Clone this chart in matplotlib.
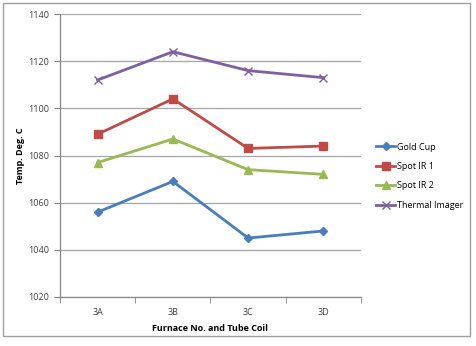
import matplotlib
matplotlib.use("Agg")
import matplotlib.pyplot as plt
from matplotlib.patches import Rectangle
from matplotlib.ticker import FixedLocator

plt.rcParams['font.family'] = ['Open Sans', 'DejaVu Sans']

# ---- data ----
categories = ['3A', '3B', '3C', '3D']
gold_cup = [1056, 1069, 1045, 1048]
spot_ir1 = [1089, 1104, 1083, 1084]
spot_ir2 = [1077, 1087, 1074, 1072]
thermal = [1112, 1124, 1116, 1113]

W, H = 477, 346
fig = plt.figure(figsize=(W / 100, H / 100), dpi=100)

# plot area in pixels: left 60, right 361, top 14, bottom 297
ax = fig.add_axes([60 / W, 1 - 297 / H, (361 - 60) / W, (297 - 14) / H])

x = list(range(len(categories)))
ax.plot(x, gold_cup, color='#4A7EBB', lw=2.0, marker='D', ms=4, label='Gold Cup')
ax.plot(x, spot_ir1, color='#BE4B48', lw=2.0, marker='s', ms=6, label='Spot IR 1')
ax.plot(x, spot_ir2, color='#98B954', lw=2.0, marker='^', ms=6, label='Spot IR 2')
ax.plot(x, thermal, color='#7D60A0', lw=2.0, marker='x', ms=6, mew=1.0, label='Thermal Imager')

ax.set_xlim(-0.5, len(categories) - 0.5)
ax.set_ylim(1020, 1140)
ax.set_yticks(range(1020, 1141, 20))
ax.yaxis.grid(True, color='#A6A6A6', lw=0.9)
ax.set_axisbelow(True)

ax.set_xticks(x)
ax.set_xticklabels(categories)
ax.xaxis.set_minor_locator(FixedLocator([i - 0.5 for i in range(len(categories) + 1)]))
ax.tick_params(axis='x', which='major', length=0, pad=8, labelsize=6.5, colors='#404040')
ax.tick_params(axis='x', which='minor', length=4, color='#868686', direction='out')
ax.tick_params(axis='y', length=4, color='#868686', labelsize=6.5, labelcolor='#404040', pad=4)

for s in ['top', 'right']:
    ax.spines[s].set_visible(False)
for s in ['left', 'bottom']:
    ax.spines[s].set_color('#868686')
    ax.spines[s].set_linewidth(0.9)

ax.set_xlabel('Furnace No. and Tube Coil', fontsize=6.5, fontweight='bold', labelpad=5)
ax.set_ylabel('Temp. Deg. C', fontsize=6.5, fontweight='bold', labelpad=2)

fig.legend(loc='upper left', bbox_to_anchor=(372 / W, 1 - 139 / H), frameon=False,
           fontsize=6.5, handlelength=2.2, handletextpad=0.2, labelspacing=1.15,
           borderaxespad=0)

# outer chart border
fig.patches.append(Rectangle((3 / W, 1 - 336 / H), (470 - 3) / W, (336 - 3) / H,
                             transform=fig.transFigure, fill=False,
                             edgecolor='#A0A0A0', lw=1.0))

fig.savefig('out.png', dpi=100)
